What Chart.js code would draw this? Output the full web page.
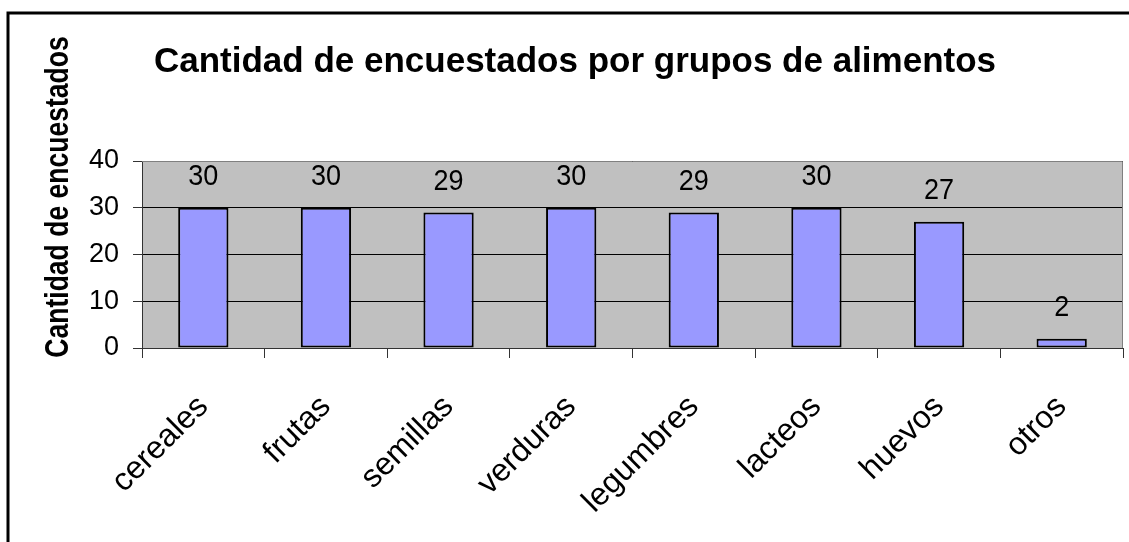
<!DOCTYPE html>
<html>
<head>
<meta charset="utf-8">
<script src="https://cdn.jsdelivr.net/npm/chart.js@4"></script>
<style>
  html, body { margin: 0; padding: 0; background: #fff; }
  #wrap { width: 1129px; height: 542px; }
</style>
</head>
<body>
<div id="wrap"><canvas id="foodChart" width="1129" height="542"></canvas></div>
<script>
const categories = ['cereales', 'frutas', 'semillas', 'verduras', 'legumbres', 'lacteos', 'huevos', 'otros'];
const respondents = [30, 30, 29, 30, 29, 30, 27, 2];
const yTicks = [0, 10, 20, 30, 40];

const chartTitle = 'Cantidad de encuestados por grupos de alimentos';
const yTitle = 'Cantidad de encuestados';
const FONT = "'Liberation Sans', Arial, sans-serif";

// gray plot background + frame + texts
const decor = {
  id: 'decor',
  beforeDraw(chart) {
    const { ctx, chartArea: a } = chart;
    ctx.save();
    ctx.fillStyle = '#c0c0c0';
    ctx.fillRect(a.left, a.top, a.right - a.left, a.bottom - a.top);
    ctx.restore();
  },
  afterDraw(chart) {
    const { ctx, chartArea: a } = chart;
    ctx.save();
    // outer frame (top and left only visible)
    ctx.strokeStyle = '#000';
    ctx.lineWidth = 3;
    ctx.beginPath();
    ctx.moveTo(8, 560);
    ctx.lineTo(8, 13);
    ctx.lineTo(1140, 13);
    ctx.stroke();
    // plot border right/top
    ctx.strokeStyle = '#808080';
    ctx.lineWidth = 1;
    ctx.beginPath();
    ctx.moveTo(a.right - 0.5, a.bottom);
    ctx.lineTo(a.right - 0.5, a.top + 0.5);
    ctx.lineTo(a.left, a.top + 0.5);
    ctx.stroke();
    // title
    ctx.fillStyle = '#000';
    ctx.font = 'bold 35px ' + FONT;
    ctx.textAlign = 'center';
    ctx.textBaseline = 'alphabetic';
    ctx.fillText(chartTitle, 575, 72);
    // y axis title (condensed)
    ctx.translate(68, 197);
    ctx.rotate(-Math.PI / 2);
    ctx.scale(0.78, 1);
    ctx.font = 'bold 34px ' + FONT;
    ctx.fillText(yTitle, 0, 0);
    ctx.restore();
  }
};

// value labels above the bars
const valueLabels = {
  id: 'valueLabels',
  afterDatasetsDraw(chart) {
    const { ctx } = chart;
    const meta = chart.getDatasetMeta(0);
    ctx.save();
    ctx.fillStyle = '#000';
    ctx.font = '30px ' + FONT;
    ctx.textAlign = 'center';
    ctx.textBaseline = 'middle';
    meta.data.forEach((bar, i) => {
      ctx.save();
      ctx.translate(bar.x, bar.y - 31);
      ctx.scale(0.9, 1);
      ctx.fillText(String(respondents[i]), 0, 0);
      ctx.restore();
    });
    ctx.restore();
  }
};

const ctx = document.getElementById('foodChart').getContext('2d');
new Chart(ctx, {
  type: 'bar',
  data: {
    labels: categories,
    datasets: [{
      data: respondents,
      backgroundColor: '#9999ff',
      borderColor: '#000',
      borderWidth: 2,
      borderSkipped: false,
      barPercentage: 0.41,
      categoryPercentage: 1
    }]
  },
  options: {
    responsive: false,
    animation: false,
    layout: { padding: { top: 161, right: 6, left: 0, bottom: 0 } },
    plugins: {
      legend: { display: false },
      title: { display: false },
      tooltip: { enabled: false }
    },
    scales: {
      y: {
        min: 0,
        max: 40,
        afterBuildTicks: s => { s.ticks = yTicks.map(v => ({ value: v })); },
        afterFit: s => { s.width = 142; },
        ticks: { color: '#000', font: { family: FONT, size: 27 }, padding: 14 },
        grid: { color: '#000', lineWidth: 1, tickLength: 9, tickColor: '#333' },
        border: { display: true, color: '#333', width: 1 }
      },
      x: {
        afterFit: s => { s.height = 194; },
        ticks: {
          color: '#000',
          font: { family: FONT, size: 32 },
          minRotation: 45,
          maxRotation: 45,
          padding: 30
        },
        grid: { offset: true, drawOnChartArea: false, drawTicks: true, tickLength: 10, color: '#333' },
        border: { display: true, color: '#333', width: 1 }
      }
    }
  },
  plugins: [decor, valueLabels]
});
</script>
</body>
</html>
